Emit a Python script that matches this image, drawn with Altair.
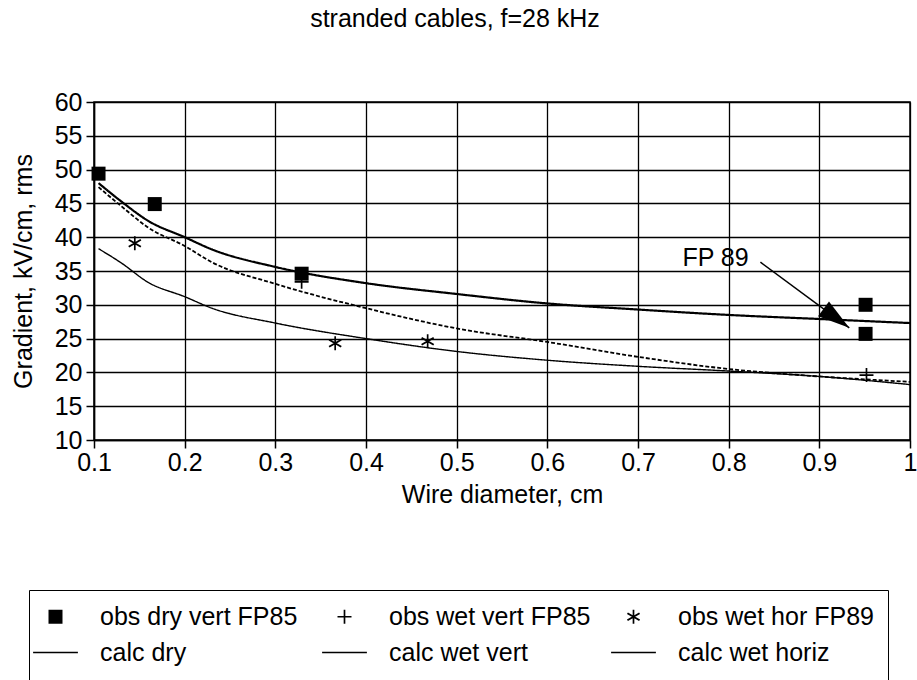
import math

import altair as alt
import pandas as pd

FONT = "Liberation Sans, Arial, Helvetica, sans-serif"

# Calculated gradient curves (kV/cm rms) against wire diameter (cm)
calc_diameter = [0.105, 0.13, 0.16, 0.2, 0.23, 0.3, 0.4, 0.5, 0.6, 0.7, 0.8, 0.9, 1.0]
calc_dry = [48.0, 45.3, 42.4, 40.0, 38.2, 35.6, 33.2, 31.6, 30.2, 29.3, 28.5, 27.9, 27.3]
calc_wet_vert = [47.4, 44.6, 41.4, 38.7, 36.3, 33.1, 29.5, 26.5, 24.5, 22.3, 20.5, 19.4, 18.6]
calc_wet_horiz = [38.3, 36.2, 33.3, 31.2, 29.5, 27.3, 25.0, 23.1, 21.8, 20.9, 20.2, 19.4, 18.2]

# Observed gradients
obs_dry_vert_x = [0.105, 0.167, 0.329, 0.951, 0.951]
obs_dry_vert_y = [49.4, 44.9, 34.6, 30.0, 25.7]
obs_wet_vert_x = [0.329, 0.952]
obs_wet_vert_y = [33.4, 19.6]
obs_wet_hor_x = [0.145, 0.366, 0.468]
obs_wet_hor_y = [39.1, 24.3, 24.6]

obs_names = ["obs dry vert FP85", "obs wet vert FP85", "obs wet hor FP89"]
calc_names = ["calc dry", "calc wet vert", "calc wet horiz"]
legend_order = obs_names + calc_names

# "FP 89" annotation and its arrow (data coordinates)
note_text = ["FP 89"]
note_x = [0.749]
note_y = [36.9]
arrow_x = [0.835, 0.933]
arrow_y = [36.3, 26.6]

x_ticks = [0.1, 0.2, 0.3, 0.4, 0.5, 0.6, 0.7, 0.8, 0.9, 1.0]
y_ticks = [10, 15, 20, 25, 30, 35, 40, 45, 50, 55, 60]

W, H = 816, 338
X_DOM = [0.1, 1.0]
Y_DOM = [10, 60]

# Marker outlines, all drawn as filled paths at one symbol size: square, plus,
# six-armed star and a long thin bar used as the legend swatch of the curves
MARKER_SIZE = 196
SQUARE = "M-1,-1H1V1H-1Z"
PLUS = "M-1,-0.12H1V0.12H-1Z M-0.12,-1H0.12V1H-0.12Z"
STAR = (
    "M-0.12,-1H0.12V1H-0.12Z "
    "M-0.936,-0.396L-0.796,-0.604L0.936,0.396L0.796,0.604Z "
    "M-0.796,0.604L-0.936,0.396L0.796,-0.604L0.936,-0.396Z"
)
SWATCH = "M-3.2,-0.107H3.2V0.107H-3.2Z"
shape_range = [SQUARE, PLUS, STAR, SWATCH, SWATCH, SWATCH]

calc_df = pd.DataFrame(
    {
        "diameter": calc_diameter * 3,
        "gradient": calc_dry + calc_wet_vert + calc_wet_horiz,
        "series": sum([[n] * len(calc_diameter) for n in calc_names], []),
    }
)
obs_df = pd.DataFrame(
    {
        "diameter": obs_dry_vert_x + obs_wet_vert_x + obs_wet_hor_x,
        "gradient": obs_dry_vert_y + obs_wet_vert_y + obs_wet_hor_y,
        "series": [obs_names[0]] * len(obs_dry_vert_x)
        + [obs_names[1]] * len(obs_wet_vert_x)
        + [obs_names[2]] * len(obs_wet_hor_x),
    }
)
note_df = pd.DataFrame({"diameter": note_x, "gradient": note_y, "text": note_text})
arrow_df = pd.DataFrame({"diameter": arrow_x, "gradient": arrow_y})

# Arrowhead rotation from the on-screen direction of the arrow
dx_px = (arrow_x[1] - arrow_x[0]) * W / (X_DOM[1] - X_DOM[0])
dy_px = (arrow_y[0] - arrow_y[1]) * H / (Y_DOM[1] - Y_DOM[0])
head_angle = math.degrees(math.atan2(dx_px, -dy_px)) % 360

x_enc = alt.X(
    "diameter:Q",
    scale=alt.Scale(domain=X_DOM, nice=False, zero=False),
    axis=alt.Axis(
        values=x_ticks,
        format="~g",
        title="Wire diameter, cm",
        titleY=62,
        titleBaseline="alphabetic",
        labelBaseline="alphabetic",
        labelPadding=22,
        labelFlush=False,
    ),
)
y_enc = alt.Y(
    "gradient:Q",
    scale=alt.Scale(domain=Y_DOM, nice=False, zero=False),
    axis=alt.Axis(
        values=y_ticks,
        title="Gradient, kV/cm, rms",
        titleX=-63,
        titleY=H / 2,
        titleAlign="center",
        titleBaseline="alphabetic",
        labelPadding=4,
    ),
)

lines = (
    alt.Chart(calc_df)
    .mark_line(color="black", interpolate="monotone")
    .encode(
        x=x_enc,
        y=y_enc,
        detail="series:N",
        strokeDash=alt.StrokeDash(
            "series:N",
            scale=alt.Scale(domain=calc_names, range=[[1, 0], [4, 2], [1, 0]]),
            legend=None,
        ),
        strokeWidth=alt.StrokeWidth(
            "series:N",
            scale=alt.Scale(domain=calc_names, range=[2.2, 1.4, 1.6]),
            legend=None,
        ),
    )
)

legend = alt.Legend(
    title=None,
    orient="none",
    direction="horizontal",
    legendX=-65,
    legendY=488,
    columns=3,
    gridAlign="all",
    columnPadding=20,
    rowPadding=10,
    padding=14,
    strokeColor="black",
    labelFont=FONT,
    labelFontSize=25,
    labelColor="black",
    labelOffset=32,
    labelLimit=400,
    symbolSize=MARKER_SIZE,
    symbolFillColor="black",
    symbolStrokeWidth=0,
    symbolOpacity=1,
)

points = (
    alt.Chart(obs_df)
    .mark_point(filled=True, color="black", opacity=1, size=MARKER_SIZE)
    .encode(
        x=x_enc,
        y=y_enc,
        shape=alt.Shape(
            "series:N",
            scale=alt.Scale(domain=legend_order, range=shape_range),
            legend=legend,
        ),
    )
)

arrow_line = (
    alt.Chart(arrow_df)
    .mark_line(color="black", strokeWidth=1.5)
    .encode(x=x_enc, y=y_enc)
)
arrow_head = (
    alt.Chart(arrow_df.tail(1))
    .mark_point(
        shape="M0,0L-0.92,3.2L0.92,3.2Z",
        size=400,
        angle=head_angle,
        filled=True,
        color="black",
        opacity=1,
    )
    .encode(x=x_enc, y=y_enc)
)
note = (
    alt.Chart(note_df)
    .mark_text(align="left", baseline="middle", font=FONT, fontSize=25, color="black")
    .encode(x=x_enc, y=y_enc, text="text:N")
)

chart = (
    alt.layer(lines, arrow_line, arrow_head, points, note)
    .properties(
        width=W,
        height=H,
        title=alt.TitleParams(
            "stranded cables, f=28 kHz",
            font=FONT,
            fontSize=25,
            fontWeight="normal",
            color="black",
            anchor="middle",
            frame="group",
            dx=-47,
            offset=58,
        ),
        autosize=alt.AutoSizeParams(type="none"),
        padding={"left": 94, "top": 102, "right": 7, "bottom": 240},
        background="white",
    )
    .configure_view(stroke="black", strokeWidth=1.5)
    .configure_axis(
        grid=True,
        gridColor="black",
        gridWidth=1.3,
        gridOpacity=1,
        domainColor="black",
        domainWidth=1.5,
        tickColor="black",
        tickWidth=1.5,
        tickSize=8,
        labelFont=FONT,
        labelFontSize=25,
        labelColor="black",
        titleFont=FONT,
        titleFontSize=25,
        titleFontWeight="normal",
        titleColor="black",
    )
)

chart.save("out.html", embed_options={"renderer": "svg", "actions": False})
